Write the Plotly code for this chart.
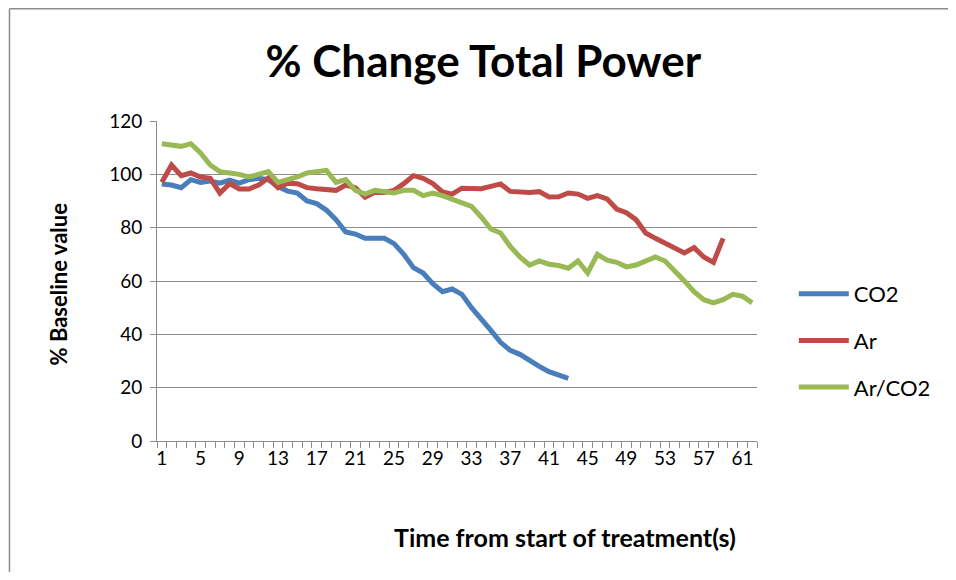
import plotly.graph_objects as go

time_labels = list(range(1, 63))
tick_labels = [1, 5, 9, 13, 17, 21, 25, 29, 33, 37, 41, 45, 49, 53, 57, 61]

co2 = [96.4, 96, 95, 98, 97, 97.5, 96.7, 97.8, 96.7, 98, 98.5, 98, 95.4, 93.7, 93,
       90, 89, 86.6, 83, 78.4, 77.6, 76, 76, 76, 74, 70, 65, 63, 59, 56, 57, 55,
       50, 46, 41.5, 37, 34, 32.5, 30, 28, 26, 24.5, 23.5]
ar = [97, 103.5, 99.5, 100.5, 99, 98.5, 93, 96.5, 94.5, 94.5, 96, 98.6, 95, 96.7,
      96.5, 95, 94.6, 94.5, 94, 96, 95, 91.4, 93.3, 93.2, 94, 96.5, 99.5, 98.5,
      96.5, 93.4, 92.6, 94.8, 94.6, 94.6, 95.5, 96.4, 93.6, 93.4, 93.2, 93.5,
      91.5, 91.6, 93, 92.6, 91, 92, 90.8, 87, 85.6, 83, 78, 76, 74, 72, 70.5,
      72.5, 69, 67, 76]
ar_co2 = [111.5, 111, 110.5, 111.5, 108, 103.5, 101, 100.5, 100, 99, 100, 101, 97,
          98, 99, 100.5, 100.8, 101.5, 97, 98, 94, 92.6, 94, 93.5, 93, 94, 94, 92,
          93, 92, 90.5, 89, 88, 84, 79.5, 78, 73, 69, 66, 67.5, 66.3, 65.8, 64.8,
          67.5, 63, 70, 67.8, 67, 65.3, 66, 67.5, 69, 67.5, 64, 60, 56, 53, 51.8,
          53, 55, 54.3, 51.8]

series = [("CO2", co2, "#4A7EBB"), ("Ar", ar, "#BE4B48"), ("Ar/CO2", ar_co2, "#98B954")]

# page has an 8px body margin; work in page pixels and convert
OFF = 8
W, H = 956 - 2 * OFF, 580 - 2 * OFF
L, R, T, B = 157 - OFF, 760 - OFF, 121 - OFF, 441 - OFF

fig = go.Figure()
for name, vals, col in series:
    fig.add_trace(go.Scatter(
        x=time_labels[:len(vals)], y=vals, mode="lines", name=name,
        legendgroup=name,
        line=dict(color=col, width=5),
    ))

font = "Lato, Open Sans, sans-serif"
grid = "#8C8C8C"


def px(p):
    return (p - OFF - L) / (R - L)


def py(p):
    return (B - (p - OFF)) / (B - T)


border = dict(color="#8C8C8C", width=1.5)

fig.update_layout(
    width=W, height=H,
    margin=dict(l=L, r=W - R, t=T, b=H - B),
    paper_bgcolor="white", plot_bgcolor="white",
    showlegend=True,
    legend=dict(x=px(797), y=py(273), xanchor="left", yanchor="top",
                font=dict(family=font, size=22, color="#000"),
                tracegroupgap=15, itemwidth=50, bgcolor="rgba(0,0,0,0)"),
    title=dict(text="<b>% Change Total Power</b>", x=px(485), xanchor="center",
               y=1 - (62 - OFF) / H, yanchor="middle", xref="paper",
               font=dict(family=font, size=44, color="#000")),
    xaxis=dict(range=[0.5, 62.5], tickvals=tick_labels,
               ticktext=[str(t) for t in tick_labels], ticks="",
               showgrid=False, showline=True, linecolor=grid, linewidth=1,
               tickfont=dict(family=font, size=19, color="#000"),
               minor=dict(tick0=0.5, dtick=1, ticks="outside", ticklen=6,
                          tickcolor=grid, tickwidth=1, showgrid=False),
               zeroline=False),
    yaxis=dict(range=[0, 120], dtick=20, showgrid=True, gridcolor=grid,
               gridwidth=1, showline=True, linecolor=grid, linewidth=1,
               ticks="outside", ticklen=6, tickcolor=grid,
               tickfont=dict(family=font, size=19, color="#000"),
               zeroline=False, ticklabelstandoff=4),
    annotations=[
        dict(text="<b>Time from start of treatment(s)</b>", x=px(567), y=py(537),
             xref="paper", yref="paper", showarrow=False, xanchor="center",
             yanchor="middle", font=dict(family=font, size=25, color="#000")),
        dict(text="<b>% Baseline value</b>", x=px(58), y=py(284),
             xref="paper", yref="paper", showarrow=False, xanchor="center",
             yanchor="middle", textangle=-90,
             font=dict(family=font, size=22, color="#000")),
    ],
    shapes=[
        dict(type="line", xref="paper", yref="paper",
             x0=px(OFF + 0.75), x1=px(956), y0=py(OFF + 0.75), y1=py(OFF + 0.75),
             line=border, layer="below"),
        dict(type="line", xref="paper", yref="paper",
             x0=px(OFF + 0.75), x1=px(OFF + 0.75), y0=py(OFF + 0.75), y1=py(580),
             line=border, layer="below"),
    ],
)

fig.write_html("out.html")
